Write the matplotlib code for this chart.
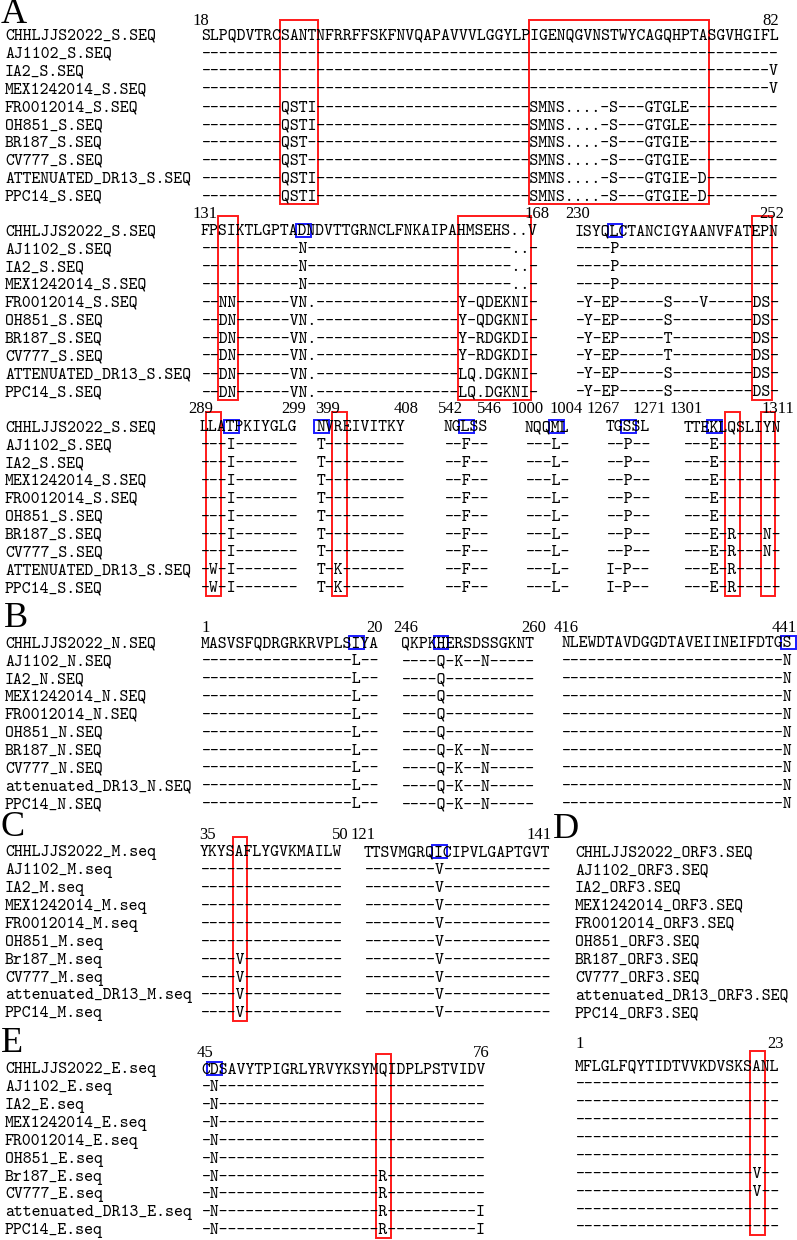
import matplotlib.pyplot as plt
from matplotlib.patches import Rectangle

# typewriter face closest to Courier that ships with matplotlib
plt.rcParams['font.family'] = ['cmtt10', 'DejaVu Sans Mono']

D = "-"

# sequence names for each protein
names_S = ["CHHLJJS2022_S.SEQ", "AJ1102_S.SEQ", "IA2_S.SEQ", "MEX1242014_S.SEQ",
           "FR0012014_S.SEQ", "OH851_S.SEQ", "BR187_S.SEQ", "CV777_S.SEQ",
           "ATTENUATED_DR13_S.SEQ", "PPC14_S.SEQ"]
names_N = ["CHHLJJS2022_N.SEQ", "AJ1102_N.SEQ", "IA2_N.SEQ", "MEX1242014_N.SEQ",
           "FR0012014_N.SEQ", "OH851_N.SEQ", "BR187_N.SEQ", "CV777_N.SEQ",
           "attenuated_DR13_N.SEQ", "PPC14_N.SEQ"]
names_M = ["CHHLJJS2022_M.seq", "AJ1102_M.seq", "IA2_M.seq", "MEX1242014_M.seq",
           "FR0012014_M.seq", "OH851_M.seq", "Br187_M.seq", "CV777_M.seq",
           "attenuated_DR13_M.seq", "PPC14_M.seq"]
names_ORF3 = ["CHHLJJS2022_ORF3.SEQ", "AJ1102_ORF3.SEQ", "IA2_ORF3.SEQ",
              "MEX1242014_ORF3.SEQ", "FR0012014_ORF3.SEQ", "OH851_ORF3.SEQ",
              "BR187_ORF3.SEQ", "CV777_ORF3.SEQ", "attenuated_DR13_ORF3.SEQ",
              "PPC14_ORF3.SEQ"]
names_E = ["CHHLJJS2022_E.seq", "AJ1102_E.seq", "IA2_E.seq", "MEX1242014_E.seq",
           "FR0012014_E.seq", "OH851_E.seq", "Br187_E.seq", "CV777_E.seq",
           "attenuated_DR13_E.seq", "PPC14_E.seq"]

# S protein, residues 18-82
S_18_82 = [
    "SLPQDVTRCSANTNFRRFFSKFNVQAPAVVVLGGYLPIGENQGVNSTWYCAGQHPTASGVHGIFL",
    D * 65,
    D * 64 + "V",
    D * 64 + "V",
    D * 9 + "QSTI" + D * 24 + "SMNS....-S---GTGLE--" + D * 8,
    D * 9 + "QSTI" + D * 24 + "SMNS....-S---GTGLE--" + D * 8,
    D * 9 + "QST-" + D * 24 + "SMNS....-S---GTGIE--" + D * 8,
    D * 9 + "QST-" + D * 24 + "SMNS....-S---GTGIE--" + D * 8,
    D * 9 + "QSTI" + D * 24 + "SMNS....-S---GTGIE-D" + D * 8,
    D * 9 + "QSTI" + D * 24 + "SMNS....-S---GTGIE-D" + D * 8,
]
# S 131-168
S_131_168 = [
    "FPSIKTLGPTADNDVTTGRNCLFNKAIPAHMSEHS..V",
    D * 11 + "N" + D * 23 + ".." + D,
    D * 11 + "N" + D * 23 + ".." + D,
    D * 11 + "N" + D * 23 + ".." + D,
    "--NN" + D * 6 + "VN." + D * 16 + "Y-QDEKNI" + D,
    "--DN" + D * 6 + "VN." + D * 16 + "Y-QDGKNI" + D,
    "--DN" + D * 6 + "VN." + D * 16 + "Y-RDGKDI" + D,
    "--DN" + D * 6 + "VN." + D * 16 + "Y-RDGKDI" + D,
    "--DN" + D * 6 + "VN." + D * 16 + "LQ.DGKNI" + D,
    "--DN" + D * 6 + "VN." + D * 16 + "LQ.DGKNI" + D,
]
# S 230-252
S_230_252 = [
    "ISYQLCTANCIGYAANVFATEPN",
    "----P" + D * 18,
    "----P" + D * 18,
    "----P" + D * 18,
    "-Y-EP" + D * 5 + "S" + D * 3 + "V" + D * 5 + "DS" + D,
    "-Y-EP" + D * 5 + "S" + D * 9 + "DS" + D,
    "-Y-EP" + D * 5 + "T" + D * 9 + "DS" + D,
    "-Y-EP" + D * 5 + "T" + D * 9 + "DS" + D,
    "-Y-EP" + D * 5 + "S" + D * 9 + "DS" + D,
    "-Y-EP" + D * 5 + "S" + D * 9 + "DS" + D,
]
S_289_299 = ["LLATPKIYGLG"] + ["---I-------"] * 7 + ["-W-I-------"] * 2
S_399_408 = ["NVREIVITKY"] + ["T---------"] * 7 + ["T-K-------"] * 2
S_542_546 = ["NGLSS"] + ["--F--"] * 9
S_1000_1004 = ["NQQML"] + ["---L-"] * 9
S_1267_1271 = ["TGSSL"] + ["--P--"] * 7 + ["I-P--"] * 2
S_1301_1311 = (["TTEKLQSLIYN"] + ["---E-------"] * 5 + ["---E-R---N-"] * 2
               + ["---E-R-----"] * 2)

# N protein
N_1_20 = ["MASVSFQDRGRKRVPLSIYA"] + [D * 17 + "L--"] * 9
N_246_260 = (["QKPKHERSDSSGKNT", "----Q-K--N-----"] + ["----Q" + D * 10] * 4
             + ["----Q-K--N-----"] * 4)
N_416_441 = ["NLEWDTAVDGGDTAVEIINEIFDTGS"] + [D * 25 + "N"] * 9

# M protein
M_35_50 = ["YKYSAFLYGVKMAILW"] + [D * 16] * 5 + ["----V" + D * 11] * 4
M_121_141 = ["TTSVMGRQICIPVLGAPTGVT"] + [D * 8 + "V" + D * 12] * 9

# ORF3 1-23
ORF3_1_23 = (["MFLGLFQYTIDTVVKDVSKSANL"] + [D * 23] * 5
             + [D * 20 + "V--"] * 2 + [D * 23] * 2)

# E protein 45-76
E_45_76 = (["CDSAVYTPIGRLYRVYKSYMQIDPLPSTVIDV"] + ["-N" + D * 30] * 5
           + ["-N" + D * 18 + "R" + D * 11] * 2
           + ["-N" + D * 18 + "R" + D * 10 + "I"] * 2)

# layout (pixels)
CW = 8.9        # width of one residue
DY = 17.9       # row spacing
FS = 12.2
NAME_X = 5
BASE = 5.2      # baseline below row centre
NUM_FS = 12

fig = plt.figure(figsize=(7.97, 12.4), dpi=100)
ax = fig.add_axes([0, 0, 1, 1])
ax.set_xlim(0, 797)
ax.set_ylim(1240, 0)
ax.axis('off')


def names(lst, x0, y0):
    for i, nm in enumerate(lst):
        ax.text(x0, y0 + i * DY + BASE, nm, fontsize=FS, va='baseline')


def num(x, y, s, ha='center'):
    ax.text(x, y, s, family='Liberation Serif', fontsize=NUM_FS, ha=ha,
            va='baseline')


def seg(rows, x0, y0, lab, lab_y, off=(0, 0)):
    for i, s in enumerate(rows):
        ax.text(x0, y0 + i * DY + BASE, s, fontsize=FS, va='baseline')
    n = len(rows[0])
    num(x0 + CW / 2 + off[0], lab_y, str(lab[0]))
    num(x0 + (n - 0.5) * CW + off[1], lab_y, str(lab[1]))


def red(x0, c0, c1, y0, nrows=10):
    pad = 3 if c0 == c1 else 1
    top = y0 - 14
    bot = min(y0 + (nrows - 1) * DY + 9, 1238.5)
    ax.add_patch(Rectangle((x0 + c0 * CW - pad, top), (c1 - c0 + 1) * CW + 2 * pad,
                           bot - top, fill=False, ec='#ff1a1a', lw=1.4))


def blue(x0, c, y0):
    ax.add_patch(Rectangle((x0 + c * CW - 3, y0 - 6.5), CW + 6, 13,
                           fill=False, ec='#1a1aff', lw=1.4))


def letter(ch, x, y):
    ax.text(x, y, ch, family='Liberation Serif', fontsize=26, va='baseline')


# Panel A
letter("A", 1, 23)
y = 34.3
names(names_S, NAME_X, y)
seg(S_18_82, 201, y, (18, 82), 25, (-5, -4))
red(201, 9, 12, y)
red(201, 37, 56, y)

y = 230
names(names_S, NAME_X, y)
seg(S_131_168, 201, y, (131, 168), 218, (0, 2))
seg(S_230_252, 575, y, (230, 252), 218, (-2, -4))
red(201, 2, 3, y)
red(201, 29, 36, y)
red(575, 20, 21, y)
blue(201, 11, y)
blue(575, 4, y)

y = 426
names(names_S, NAME_X, y)
seg(S_289_299, 200, y, (289, 299), 413, (-4, 0))
seg(S_399_408, 317, y, (399, 408), 413, (6, 5))
seg(S_542_546, 444, y, (542, 546), 413, (2, 5))
seg(S_1000_1004, 525, y, (1000, 1004), 413, (-2, 1))
seg(S_1267_1271, 606, y, (1267, 1271), 413, (-7, 3))
seg(S_1301_1311, 683.5, y, (1301, 1311), 413, (-2, 1))
red(200, 1, 1, y)
red(317, 2, 2, y)
red(683.5, 5, 5, y)
red(683.5, 9, 9, y)
blue(200, 3, y)
blue(317, 0, y)
blue(444, 2, y)
blue(525, 3, y)
blue(606, 2, y)
blue(683.5, 3, y)

# Panel B
letter("B", 4, 627)
y = 642
names(names_N, NAME_X, y)
seg(N_1_20, 201, y, (1, 20), 632)
seg(N_246_260, 401, y, (246, 260), 632, (0, 4))
seg(N_416_441, 561.5, y, (416, ""), 632)
num(797, 632, "441", ha='right')
blue(201, 17, y)
blue(401, 4, y)
blue(561.5, 25, y)

# Panel C
letter("C", 1, 836)
y = 851
names(names_M, NAME_X, y)
seg(M_35_50, 200, y, (35, 50), 839, (3, 2))
seg(M_121_141, 364, y, (121, 141), 839, (-5, -7))
red(200, 4, 4, y)
blue(364, 8, y)

# Panel D
letter("D", 553, 838)
names(names_ORF3, 575, y)
y = 1065
seg(ORF3_1_23, 575, y, (1, 23), 1048)
red(575, 20, 20, y)

# Panel E
letter("E", 1, 1052)
y = 1068
names(names_E, NAME_X, y)
seg(E_45_76, 201, y, (45, 76), 1057)
red(201, 20, 20, y)
blue(201, 1, y)

fig.savefig("out.png", dpi=100)
